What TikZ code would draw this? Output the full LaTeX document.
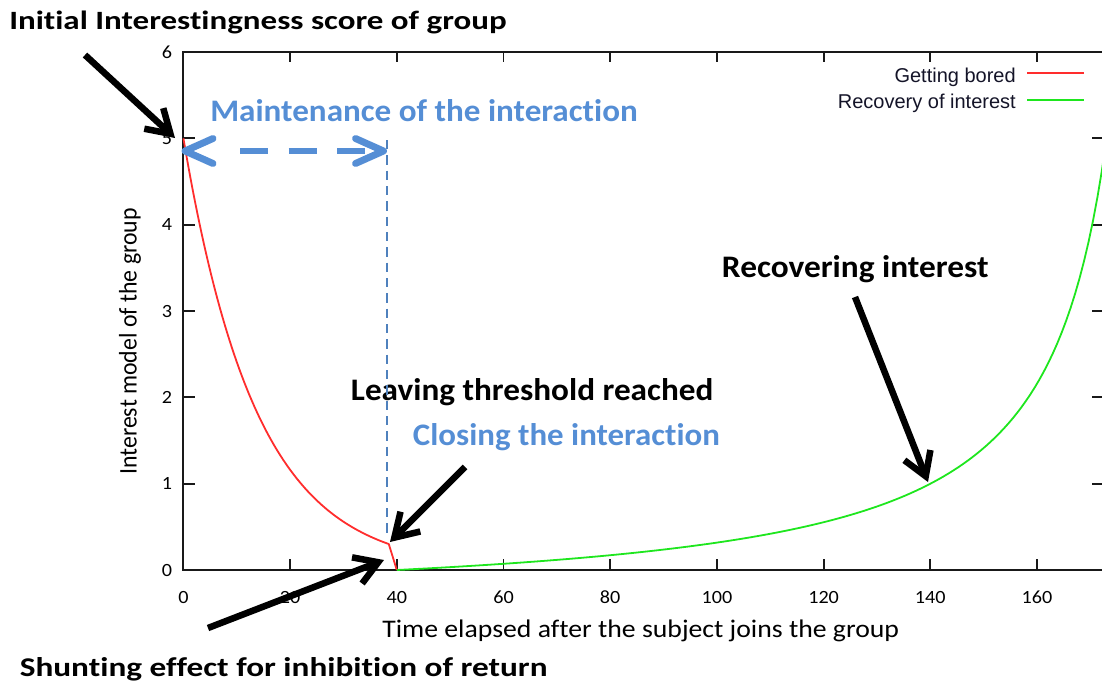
\documentclass[tikz,border=0pt]{standalone}
\usepackage{fontspec}
\setmainfont[Ligatures=NoCommon]{Carlito}
\newfontfamily\legendfont{Liberation Sans}
\usetikzlibrary{arrows.meta}

\definecolor{labelblue}{RGB}{85,142,213}
\definecolor{guideblue}{RGB}{79,129,189}
\definecolor{curvered}{RGB}{255,45,45}
\definecolor{curvegreen}{RGB}{30,230,30}
\definecolor{axisgray}{RGB}{25,25,25}
\definecolor{legendink}{RGB}{20,20,40}

% horizontal stretch of a text run
\newcommand{\hstretch}[2]{\scalebox{#1}[1]{#2}}

\tikzset{
  callout/.style={anchor=base west, inner sep=0pt, font=\fontsize{19.8}{22}\selectfont\bfseries},
  plotcallout/.style={callout, font=\fontsize{23.5}{26}\selectfont\bfseries},
  bluecallout/.style={plotcallout, text=labelblue},
  pointer/.style={line width=4.9pt, -{Straight Barb[length=17pt,width=21pt]}},
  spanline/.style={labelblue, line width=5.2pt},
  guideline/.style={guideblue, line width=1.8pt, dash pattern=on 7pt off 4.5pt},
  frame/.style={axisgray, line width=1.4pt},
  ticklabel/.style={inner sep=0pt, font=\fontsize{14}{16}\selectfont},
  axislabel/.style={inner sep=0pt, font=\fontsize{19}{22}\selectfont},
  legendtext/.style={anchor=base east, inner sep=0pt, font=\legendfont\fontsize{15}{17}\selectfont, text=legendink},
}

\begin{document}
\begin{tikzpicture}[x=0.75pt, y=-0.75pt]
\useasboundingbox (0,0) rectangle (1102,685);

% ---- axes frame and ticks (pixel coordinates) ----
\draw[frame] (183.4,52) rectangle (1103,570);
\foreach \t in {0,20,...,160} {
  \pgfmathsetmacro{\px}{183.4+5.335*\t}
  \draw[frame] (\px,570) -- (\px,559);
  \draw[frame] (\px,52) -- (\px,62);
  \node[ticklabel] at (\px,597) {\hstretch{1.08}{\t}};
}
\foreach \v in {0,...,6} {
  \pgfmathsetmacro{\py}{570-86.33*\v}
  \draw[frame] (183.4,\py) -- (195,\py);
  \draw[frame] (1103,\py) -- (1092,\py);
  \node[ticklabel] at (167,\py) {\hstretch{1.08}{\v}};
}

% ---- axis titles ----
\node[axislabel, anchor=base west] (xlab) at (382,637)
  {\hstretch{1.095}{Time elapsed after the subject joins the group}};
\node[axislabel, anchor=base west, rotate=90] (ylab) at (136.5,475)
  {\hstretch{0.94}{Interest model of the group}};

% ---- legend ----
\node[legendtext] (leg1) at (1016,82.7) {Getting bored};
\node[legendtext] (leg2) at (1016,108.3) {Recovery of interest};
\draw[curvered, line width=1.5pt] (1027,73.5) -- (1084,73.5);
\draw[curvegreen, line width=1.5pt] (1027,99.5) -- (1084,99.5);

% ---- curves in data coordinates ----
\begin{scope}[shift={(183.4,570)}, x=4.00125pt, y=64.7475pt]
  \draw[curvered, line width=1.35pt, line join=round]
    plot[domain=0:38.5, samples=90] (\x, {5*exp(-0.073*\x)}) -- (40,0);
  \draw[curvegreen, line width=1.35pt, line join=round]
    plot[domain=40:173, samples=160] (\x, {65.2/(185-\x) - 65.2/145});
\end{scope}

% ---- annotations ----
\node[callout] (initlab) at (9,30) {\hstretch{1.25}{Initial Interestingness score of group}};
\node[bluecallout] (maintlab) at (210,121) {\hstretch{1.057}{Maintenance of the interaction}};
\node[plotcallout] (leavelab) at (350.7,400) {\hstretch{1.06}{Leaving threshold reached}};
\node[bluecallout] (closelab) at (412.7,445) {\hstretch{1.05}{Closing the interaction}};
\node[plotcallout] (recovlab) at (721.7,277.7) {\hstretch{1.064}{Recovering interest}};
\node[callout, font=\fontsize{20.3}{23}\selectfont\bfseries] (shuntlab) at (19.5,676)
  {\hstretch{1.229}{Shunting effect for inhibition of return}};

% guide from the score axis down to the leaving point
\coordinate (guidetop) at (386.7,140);
\coordinate (guidebot) at (386.7,537);
\draw[guideline] (guidetop) -- (guidebot);

% maintenance span: dashed shaft with open heads at both ends
\coordinate (spanL) at (185,151);
\coordinate (spanR) at (383.5,151);
\coordinate (shaftL) at (240,151);
\coordinate (shaftR) at (365,151);
\draw[spanline, dash pattern=on 21pt off 15.4pt] (shaftL) -- (shaftR);
\draw[spanline, line cap=round, line join=round]
  ([shift={(28,-12.5)}]spanL) -- (spanL) -- ([shift={(28,12.5)}]spanL);
\draw[spanline, line cap=round, line join=round]
  ([shift={(-28,-12.5)}]spanR) -- (spanR) -- ([shift={(-28,12.5)}]spanR);

% black pointers
\coordinate (p1s) at (85,55);   \coordinate (p1e) at (175,138);
\coordinate (p2s) at (465,467); \coordinate (p2e) at (390,542);
\coordinate (p3s) at (208,628); \coordinate (p3e) at (384,560);
\coordinate (p4s) at (855,297); \coordinate (p4e) at (928,482);
\draw[pointer] (p1s) -- (p1e);
\draw[pointer] (p2s) -- (p2e);
\draw[pointer] (p3s) -- (p3e);
\draw[pointer] (p4s) -- (p4e);
\end{tikzpicture}
\end{document}
